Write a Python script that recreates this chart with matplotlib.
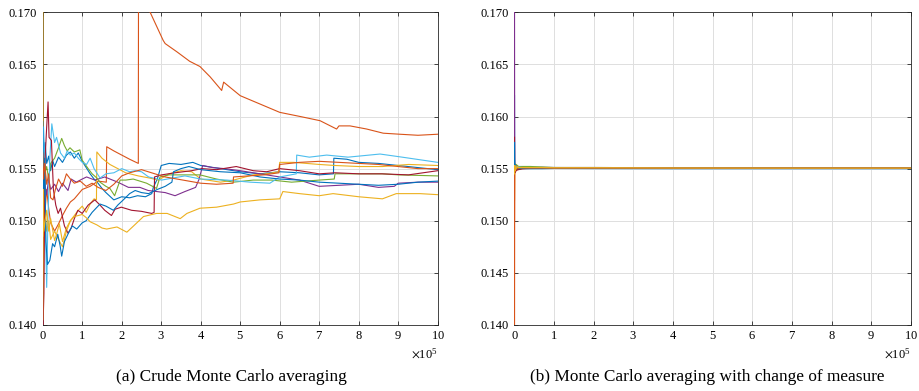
import matplotlib
matplotlib.use('Agg')
import matplotlib.pyplot as plt
import numpy as np

plt.rcParams['font.family'] = ['Liberation Serif', 'DejaVu Serif']
plt.rcParams['mathtext.fontset'] = 'stix'

# MATLAB default line colours
colors = ['#0072BD', '#D95319', '#EDB120', '#7E2F8E', '#77AC30',
          '#4DBEEE', '#A2142F', '#0072BD', '#D95319', '#EDB120']

# ---- (a) crude Monte Carlo running averages, x in units of 1e5 samples ----
blue_a_x = [0, 0.01, 0.03, 0.06, 0.1, 0.15, 0.2, 0.25, 0.3, 0.4, 0.5, 0.6, 0.7, 0.8, 0.9, 1.0,
            1.1, 1.2, 1.3, 1.4, 1.5, 1.6, 1.8, 2.0, 2.2, 2.4, 2.6, 2.76, 2.8, 2.9, 3.0, 3.2,
            3.5, 3.8, 4.0, 4.5, 5.0, 5.5, 6.0, 6.5, 7.0, 7.36, 7.37, 7.7, 8.0, 8.5, 9.0, 9.5, 10]
blue_a_y = [0.137, 0.159, 0.1565, 0.1575, 0.1555, 0.1562, 0.1548, 0.1558, 0.1552, 0.1561,
            0.1556, 0.1563, 0.1566, 0.1560, 0.1565, 0.1557, 0.1551, 0.1545, 0.1540, 0.1536,
            0.1531, 0.1527, 0.1520, 0.1523, 0.1522, 0.1524, 0.1523, 0.1526, 0.1532, 0.1540,
            0.1553, 0.1555, 0.1554, 0.1556, 0.1553, 0.1550, 0.1547, 0.1545, 0.1547, 0.1546,
            0.1544, 0.1545, 0.1560, 0.1559, 0.1556, 0.1555, 0.1553, 0.1551, 0.1549]

orange_hi_x = [0, 0.02, 0.05, 0.1, 0.15, 0.2, 0.3, 0.4, 0.5, 0.6, 0.7, 0.8, 1.0, 1.2, 1.4,
               1.61, 1.62, 1.8, 2.0, 2.2, 2.42, 2.425, 2.72, 3.05, 3.1, 3.4, 3.72, 3.98, 4.24,
               4.53, 4.58, 5.0, 5.5, 6.0, 6.52, 7.02, 7.44, 7.5, 7.78, 8.2, 8.62, 9.04, 9.5, 10]
orange_hi_y = [0.138, 0.1545, 0.1505, 0.1530, 0.1512, 0.1498, 0.1490, 0.1497, 0.1505, 0.1512,
               0.1518, 0.1521, 0.1530, 0.1533, 0.1538, 0.1537, 0.1571, 0.1567, 0.1563, 0.1559,
               0.1555, 0.1740, 0.1700, 0.1673, 0.1670, 0.1662, 0.1653, 0.1648, 0.1638, 0.1625,
               0.1633, 0.1620, 0.1612, 0.1604, 0.1600, 0.1596, 0.1588, 0.1591, 0.1591, 0.1588,
               0.1584, 0.1583, 0.1582, 0.1583]

yellow_a_x = [0, 0.005, 0.012, 0.03, 0.06, 0.1, 0.15, 0.2, 0.3, 0.4, 0.5, 0.55, 0.6, 0.7, 0.8,
              0.9, 1.0, 1.1, 1.2, 1.3, 1.36, 1.37, 1.5, 1.7, 1.9, 2.1, 2.42, 2.7, 2.93, 3.2,
              3.5, 3.77, 4.0, 4.5, 4.83, 5.33, 5.67, 5.97, 6.0, 6.35, 7.0, 7.4, 8.0, 8.6, 9.26, 10]
yellow_a_y = [0.172, 0.170, 0.1495, 0.1485, 0.1510, 0.1490, 0.1500, 0.1482, 0.1490, 0.1482,
              0.1475, 0.1482, 0.1490, 0.1500, 0.1505, 0.1510, 0.1514, 0.1508, 0.1516, 0.1521,
              0.1520, 0.1566, 0.1560, 0.1554, 0.1550, 0.1546, 0.1543, 0.1541, 0.1539, 0.1545,
              0.1548, 0.1547, 0.1540, 0.1537, 0.1539, 0.1544, 0.1545, 0.1547, 0.1556, 0.1556,
              0.1554, 0.1553, 0.1552, 0.1552, 0.1554, 0.1553]

purple_x = [0, 0.02, 0.05, 0.1, 0.15, 0.2, 0.3, 0.4, 0.5, 0.64, 0.72, 0.85, 1.0, 1.11, 1.32,
            1.57, 1.9, 2.17, 2.46, 2.67, 3.1, 3.35, 3.6, 3.87, 3.96, 4.05, 4.3, 4.6, 5.0, 5.5,
            6.0, 6.5, 7.0, 7.5, 8.0, 8.5, 8.9, 9.0, 9.5, 10]
purple_y = [0.1555, 0.1520, 0.1535, 0.1525, 0.1540, 0.1530, 0.1535, 0.1528, 0.1536, 0.1529,
            0.1540, 0.1537, 0.1540, 0.1542, 0.1539, 0.1542, 0.1537, 0.1532, 0.1532, 0.1529,
            0.1527, 0.1524, 0.1528, 0.1532, 0.1540, 0.1553, 0.1551, 0.1550, 0.1548, 0.1545,
            0.1542, 0.1539, 0.1533, 0.1534, 0.1535, 0.1532, 0.1533, 0.1536, 0.1537, 0.1537]

green_x = [0, 0.02, 0.05, 0.1, 0.15, 0.2, 0.3, 0.4, 0.48, 0.55, 0.62, 0.69, 0.8, 0.94, 1.0,
           1.15, 1.25, 1.37, 1.45, 1.6, 1.7, 1.82, 1.96, 2.1, 2.29, 2.63, 2.88, 2.97, 3.2,
           3.48, 3.98, 4.4, 4.83, 5.33, 5.8, 6.3, 7.0, 7.38, 7.4, 8.0, 8.6, 9.0, 10]
green_y = [0.1525, 0.1560, 0.1545, 0.1552, 0.1540, 0.1555, 0.1560, 0.1570, 0.1579, 0.1572,
           0.1567, 0.1570, 0.1566, 0.1568, 0.1558, 0.1550, 0.1545, 0.1541, 0.1537, 0.1533,
           0.1531, 0.1524, 0.1539, 0.1539, 0.1540, 0.1536, 0.1531, 0.1542, 0.1544, 0.1544,
           0.1544, 0.1540, 0.1537, 0.1539, 0.1539, 0.1537, 0.1539, 0.1540, 0.1545, 0.1545,
           0.1545, 0.1544, 0.1543]

lightblue_x = [0, 0.02, 0.05, 0.08, 0.1, 0.13, 0.18, 0.23, 0.3, 0.35, 0.45, 0.55, 0.62, 0.7,
               0.8, 0.9, 1.0, 1.11, 1.2, 1.3, 1.45, 1.6, 1.8, 2.0, 2.2, 2.34, 2.5, 2.68, 3.01,
               3.3, 3.6, 4.0, 4.66, 5.25, 5.75, 6.0, 6.42, 6.43, 6.75, 7.19, 7.73, 8.54, 9.1, 10]
lightblue_y = [0.1535, 0.1590, 0.1560, 0.1470, 0.1436, 0.1500, 0.1560, 0.1593, 0.1575, 0.1580,
               0.1565, 0.1560, 0.1567, 0.1563, 0.1565, 0.1560, 0.1556, 0.1554, 0.1560, 0.1550,
               0.1541, 0.1545, 0.1546, 0.1550, 0.1547, 0.1548, 0.1547, 0.1542, 0.1539, 0.1541,
               0.1543, 0.1540, 0.1539, 0.1537, 0.1536, 0.1542, 0.1545, 0.1563, 0.1561, 0.1563,
               0.1561, 0.1564, 0.1561, 0.1556]

darkred_x = [0, 0.03, 0.06, 0.1, 0.135, 0.16, 0.22, 0.27, 0.33, 0.39, 0.45, 0.55, 0.64, 0.72,
             0.8, 0.89, 1.0, 1.15, 1.32, 1.45, 1.57, 1.74, 1.83, 1.99, 2.25, 2.5, 2.76, 2.82,
             2.83, 3.01, 3.35, 3.77, 4.03, 4.4, 4.9, 5.33, 5.67, 6.0, 6.5, 7.0, 7.4, 8.0, 8.58,
             9.26, 10]
darkred_y = [0.139, 0.1430, 0.1560, 0.1590, 0.1614, 0.1580, 0.1577, 0.1530, 0.1515, 0.1507,
             0.1512, 0.1495, 0.1488, 0.1493, 0.1502, 0.1510, 0.1507, 0.1515, 0.1520, 0.1515,
             0.1510, 0.1505, 0.1511, 0.1513, 0.1510, 0.1509, 0.1507, 0.1508, 0.1542, 0.1544,
             0.1546, 0.1548, 0.1550, 0.1549, 0.1552, 0.1548, 0.1547, 0.1550, 0.1548, 0.1545,
             0.1546, 0.1545, 0.1545, 0.1544, 0.1548]

blue_b_x = [0, 0.02, 0.05, 0.08, 0.12, 0.18, 0.25, 0.3, 0.38, 0.44, 0.48, 0.55, 0.65, 0.75,
            0.86, 1.0, 1.1, 1.25, 1.45, 1.6, 1.79, 1.9, 2.04, 2.2, 2.34, 2.5, 2.68, 2.9, 3.1,
            3.27, 3.31, 3.5, 3.7, 4.0, 4.5, 5.0, 5.5, 6.0, 6.5, 7.0, 7.5, 8.0, 8.5, 9.0, 9.5, 10]
blue_b_y = [0.1595, 0.1520, 0.1560, 0.1480, 0.1458, 0.1462, 0.1478, 0.1475, 0.1487, 0.1476,
            0.1466, 0.1480, 0.1488, 0.1495, 0.1492, 0.1498, 0.1500, 0.1508, 0.1516, 0.1514,
            0.1510, 0.1515, 0.1520, 0.1526, 0.1529, 0.1527, 0.1526, 0.1530, 0.1533, 0.1537,
            0.1547, 0.1550, 0.1552, 0.1549, 0.1547, 0.1546, 0.1542, 0.1540, 0.1539, 0.1537,
            0.1536, 0.1535, 0.1534, 0.1535, 0.1537, 0.1538]

orange_lo_x = [0, 0.02, 0.05, 0.1, 0.15, 0.2, 0.26, 0.32, 0.4, 0.5, 0.6, 0.7, 0.8, 0.95, 1.1,
               1.25, 1.4, 1.6, 1.8, 2.0, 2.2, 2.5, 2.84, 3.1, 3.4, 3.7, 4.0, 4.4, 4.82, 4.83,
               5.2, 5.6, 5.98, 6.0, 6.5, 7.0, 7.5, 8.0, 8.5, 9.0, 9.5, 10]
orange_lo_y = [0.1565, 0.1540, 0.1555, 0.1535, 0.1545, 0.1522, 0.1520, 0.1530, 0.1540, 0.1533,
               0.1545, 0.1540, 0.1536, 0.1538, 0.1533, 0.1536, 0.1532, 0.1529, 0.1535, 0.1543,
               0.1546, 0.1549, 0.1545, 0.1542, 0.1540, 0.1538, 0.1536, 0.1535, 0.1536, 0.1542,
               0.1543, 0.1544, 0.1546, 0.1554, 0.1556, 0.1557, 0.1556, 0.1555, 0.1554, 0.1552,
               0.1550, 0.1550]

yellow_b_x = [0, 0.01, 0.03, 0.06, 0.1, 0.15, 0.2, 0.3, 0.35, 0.42, 0.5, 0.6, 0.7, 0.8, 1.0,
              1.1, 1.2, 1.37, 1.5, 1.62, 1.88, 2.13, 2.3, 2.55, 2.88, 3.15, 3.48, 3.65, 3.98,
              4.4, 4.83, 5.0, 5.5, 6.0, 6.08, 6.5, 7.0, 7.35, 8.0, 8.6, 8.95, 9.55, 10]
yellow_b_y = [0.1405, 0.1530, 0.1490, 0.1500, 0.1510, 0.1490, 0.1502, 0.1481, 0.1487, 0.1497,
              0.1480, 0.1493, 0.1500, 0.1504, 0.1506, 0.1503, 0.1499, 0.1496, 0.1493, 0.1492,
              0.1494, 0.1489, 0.1495, 0.1504, 0.1507, 0.1507, 0.1502, 0.1507, 0.1512, 0.1513,
              0.1516, 0.1518, 0.1520, 0.1521, 0.1528, 0.1526, 0.1524, 0.1526, 0.1523, 0.1521,
              0.1526, 0.1526, 0.1525]

crude_runs = [(blue_a_x, blue_a_y), (orange_hi_x, orange_hi_y), (yellow_a_x, yellow_a_y),
              (purple_x, purple_y), (green_x, green_y), (lightblue_x, lightblue_y),
              (darkred_x, darkred_y), (blue_b_x, blue_b_y), (orange_lo_x, orange_lo_y),
              (yellow_b_x, yellow_b_y)]

# ---- (b) with change of measure ----
is_x = [0, 0.004, 0.01, 0.02, 0.04, 0.07, 0.1, 0.2, 0.4, 0.7, 1, 2, 4, 7, 10]
is_runs = [
    [0.1620, 0.1553, 0.1549, 0.1551, 0.1550, 0.1549, 0.1550, 0.1550, 0.1550, 0.1550, 0.15502, 0.15501, 0.15500, 0.15500, 0.15500],
    [0.1380, 0.1547, 0.1552, 0.1549, 0.1548, 0.1549, 0.15495, 0.1550, 0.15505, 0.15505, 0.15505, 0.15505, 0.15505, 0.15503, 0.15503],
    [0.1520, 0.1544, 0.1555, 0.1553, 0.1552, 0.1551, 0.15515, 0.1551, 0.1551, 0.1551, 0.15508, 0.15506, 0.15505, 0.15505, 0.15505],
    [0.1710, 0.1556, 0.1553, 0.1552, 0.1553, 0.1552, 0.1552, 0.1551, 0.1551, 0.15512, 0.1551, 0.1551, 0.15508, 0.15506, 0.15505],
    [0.1555, 0.1555, 0.1550, 0.1553, 0.1554, 0.1553, 0.1552, 0.1552, 0.1552, 0.15515, 0.1551, 0.1551, 0.15508, 0.15506, 0.15505],
    [0.1553, 0.1558, 0.1552, 0.1551, 0.1552, 0.1551, 0.15515, 0.1551, 0.1551, 0.1551, 0.1551, 0.15508, 0.15506, 0.15505, 0.15504],
    [0.1580, 0.1549, 0.1546, 0.1547, 0.1548, 0.1549, 0.1549, 0.1550, 0.15502, 0.15503, 0.15503, 0.15504, 0.15504, 0.15503, 0.15503],
    [0.1575, 0.1551, 0.1554, 0.1550, 0.1551, 0.1550, 0.1550, 0.15505, 0.15505, 0.15505, 0.15505, 0.15505, 0.15505, 0.15504, 0.15504],
    [0.1500, 0.1550, 0.1548, 0.1552, 0.1551, 0.1550, 0.1551, 0.1551, 0.15508, 0.15508, 0.15506, 0.15506, 0.15505, 0.15505, 0.15505],
    [0.1545, 0.1549, 0.1553, 0.1548, 0.1550, 0.1552, 0.1551, 0.1551, 0.1551, 0.1551, 0.15508, 0.15508, 0.15506, 0.15505, 0.15505],
]

SCALE = 1e5
yticks = [0.140, 0.145, 0.150, 0.155, 0.160, 0.165, 0.170]
xticks = np.arange(0, 11)
captions = ['(a) Crude Monte Carlo averaging', '(b) Monte Carlo averaging with change of measure']


def set_axis(ax):
    ax.set_xlim(0, 10 * SCALE)
    ax.set_ylim(0.140, 0.170)
    ax.set_xticks(xticks * SCALE)
    ax.set_yticks(yticks)
    ax.yaxis.set_major_formatter(matplotlib.ticker.FormatStrFormatter('%.3f'))
    ax.ticklabel_format(axis='x', style='sci', scilimits=(5, 5), useMathText=True)
    ax.xaxis.get_offset_text().set_fontsize(9)
    ax.grid(True, color='#dedede', linewidth=0.7)
    ax.set_axisbelow(True)
    ax.tick_params(direction='in', top=True, right=True, length=3, width=0.6,
                   labelsize=9, color='#262626', pad=4)
    for s in ax.spines.values():
        s.set_color('#262626')
        s.set_linewidth(0.6)


fig = plt.figure(figsize=(9.19, 3.91), dpi=100)
ax1 = fig.add_axes([0.0465, 0.169, 0.4298, 0.7995])
ax2 = fig.add_axes([0.5598, 0.169, 0.4313, 0.7995])

# lines drawn over the box, as in the original figure
for (xs, ys), c in zip(crude_runs, colors):
    ax1.plot(np.array(xs) * SCALE, ys, color=c, linewidth=0.8, zorder=3)
for ys, c in zip(is_runs, colors):
    ax2.plot(np.array(is_x) * SCALE, ys, color=c, linewidth=0.9, zorder=3)

set_axis(ax1)
set_axis(ax2)

fig.text(0.2515, 0.036, captions[0], ha='center', va='center', fontsize=12.4)
fig.text(0.7700, 0.036, captions[1], ha='center', va='center', fontsize=12.4)

fig.savefig('out.png', dpi=100)
